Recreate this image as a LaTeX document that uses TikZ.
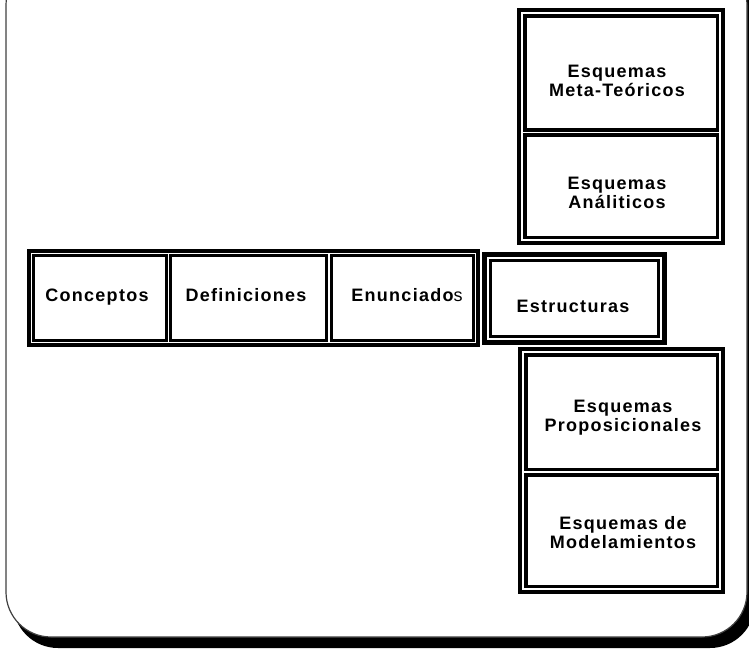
\documentclass[tikz,border=0pt]{standalone}
\usepackage{fontspec}
\setmainfont{Liberation Sans}[LetterSpace=7]
\begin{document}
\begin{tikzpicture}[x=1pt,y=1pt,
  outerbox/.style={draw=black, line width=4, inner sep=0, outer sep=0},
  cellbox/.style={draw=black, line width=3.5, inner sep=0, outer sep=0},
  rowcell/.style={draw=black, line width=3, inner sep=0, outer sep=0},
  lbl/.style={inner sep=0, anchor=base, font=\fontsize{18}{19}\selectfont\bfseries}]
\path[use as bounding box] (0,0) rectangle (749,-648);
\clip (0,0) rectangle (749,-648);
% outer frame with shadow
\fill[black, rounded corners=45] (13,40) rectangle (755,-648);
\filldraw[fill=white, draw=black!75, line width=1.2, rounded corners=45] (6,40) rectangle (747,-637);
% upper column
\node[outerbox, minimum width=204, minimum height=233] (colup) at (621,-126.5) {};
\node[cellbox, minimum width=192.5, minimum height=114] (meta) at (621,-72.75) {};
\node[cellbox, minimum width=192.5, minimum height=102.5] (anal) at (621,-186) {};
% lower column
\node[outerbox, minimum width=203, minimum height=243] (coldown) at (621.5,-470.5) {};
\node[cellbox, minimum width=191.5, minimum height=114.5] (prop) at (621.5,-412) {};
\node[cellbox, minimum width=191.5, minimum height=111.5] (mode) at (621.5,-530.5) {};
% row
\node[outerbox, minimum width=449, minimum height=94] (row) at (253.5,-298) {};
\node[rowcell, minimum width=132.5, minimum height=85] (conc) at (99.75,-298) {};
\node[rowcell, minimum width=156, minimum height=85] (defi) at (248.5,-298) {};
\node[rowcell, minimum width=142, minimum height=85] (enun) at (402.5,-298) {};
% estructuras
\node[draw=black, line width=5, inner sep=0, outer sep=0, minimum width=180, minimum height=88] (estrout) at (574.5,-298.5) {};
\node[draw=black, line width=3, inner sep=0, outer sep=0, minimum width=168, minimum height=76] (estr) at (574.5,-298.5) {};
% texts
\node[lbl] (tconc) at (97,-301) {Conceptos};
\node[lbl] (tdefi) at (246,-301) {Definiciones};
\node[lbl] (tenun) at (407,-301) {Enunciado\mdseries s};
\node[lbl] (testr) at (573,-312) {Estructuras};
\node[lbl] (tmeta) at (617,-77) {\begin{tabular}[t]{@{}c@{}}Esquemas\\Meta-Teóricos\end{tabular}};
\node[lbl] (tanal) at (617,-189) {\begin{tabular}[t]{@{}c@{}}Esquemas\\Análiticos\end{tabular}};
\node[lbl] (tprop) at (623,-412) {\begin{tabular}[t]{@{}c@{}}Esquemas\\Proposicionales\end{tabular}};
\node[lbl] (tmode) at (623,-529) {\begin{tabular}[t]{@{}c@{}}Esquemas de\\Modelamientos\end{tabular}};
\end{tikzpicture}
\end{document}
